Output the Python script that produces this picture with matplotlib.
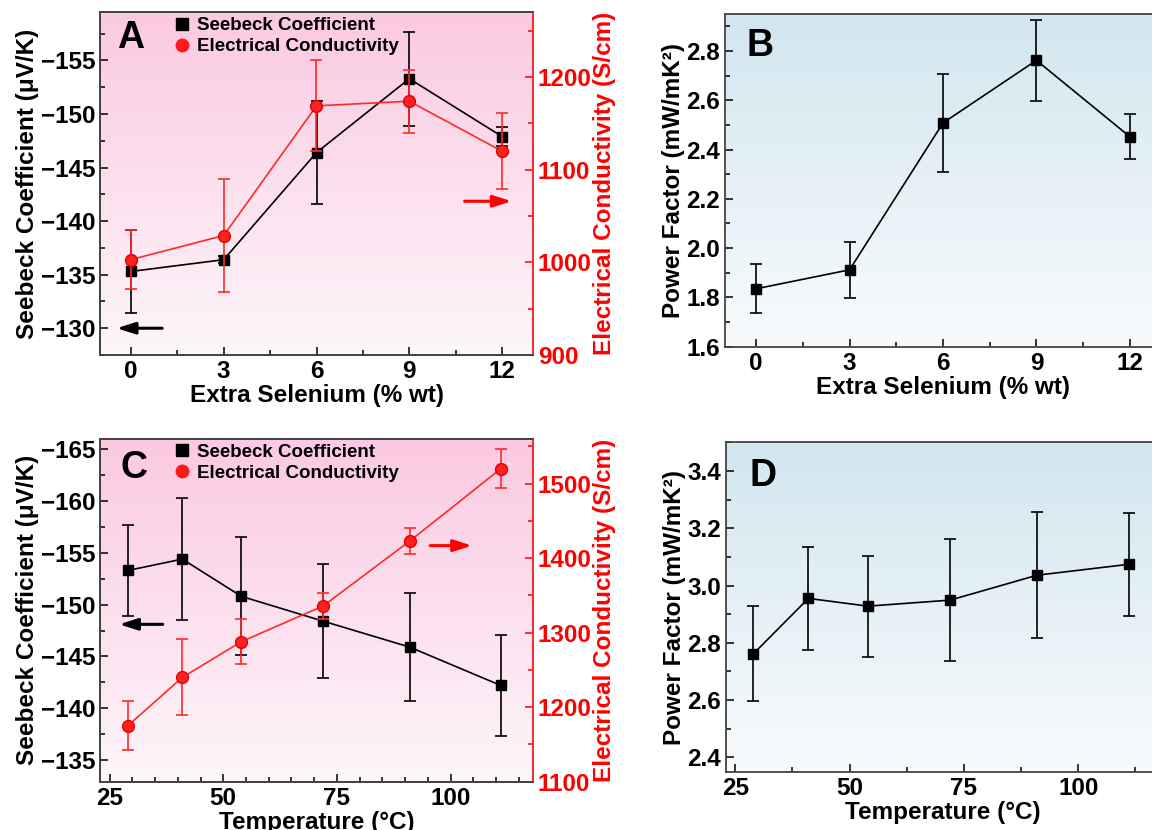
import numpy as np
import matplotlib
matplotlib.use("Agg")
import matplotlib.pyplot as plt
from matplotlib.colors import LinearSegmentedColormap
from matplotlib.lines import Line2D
from matplotlib.ticker import MultipleLocator

plt.rcParams['font.family'] = ['Liberation Sans', 'DejaVu Sans']
plt.rcParams['font.weight'] = 'bold'
plt.rcParams['axes.labelweight'] = 'bold'

# ---- data ----
selenium = [0, 3, 6, 9, 12]
seebeck_se = [-135.3, -136.4, -146.4, -153.3, -147.9]
seebeck_se_err = [3.9, 0.3, 4.8, 4.4, 0.9]
cond_se = [1003, 1029, 1169, 1174, 1120]
cond_se_err = [32, 61, 49, 34, 41]
pf_se = [1.835, 1.912, 2.508, 2.762, 2.452]
pf_se_err = [0.10, 0.114, 0.20, 0.165, 0.092]

temperature = [29, 41, 54, 72, 91, 111]
seebeck_t = [-153.3, -154.4, -150.8, -148.4, -145.9, -142.2]
seebeck_t_err = [4.4, 5.9, 5.7, 5.5, 5.2, 4.9]
cond_t = [1175, 1240, 1288, 1336, 1423, 1520]
cond_t_err = [33, 51, 30, 17, 17, 26]
pf_t = [2.762, 2.955, 2.928, 2.949, 3.036, 3.074]
pf_t_err = [0.165, 0.18, 0.176, 0.212, 0.22, 0.18]

W, H = 1152, 830
fig = plt.figure(figsize=(W / 100, H / 100), dpi=100)


def px_axes(l, t, r, b):
    return fig.add_axes([l / W, 1 - b / H, (r - l) / W, (b - t) / H])


pink = LinearSegmentedColormap.from_list('pink', ['#fdf6fa', '#fbc9e1'])
blue = LinearSegmentedColormap.from_list('blue', ['#f8fbfd', '#d2e6ef'])


def background(ax, cmap):
    grad = np.linspace(0, 1, 256).reshape(-1, 1)
    ax.imshow(grad, cmap=cmap, origin='lower', extent=[0, 1, 0, 1],
              transform=ax.transAxes, aspect='auto', zorder=-10)


def style(ax, color='black'):
    ax.tick_params(which='both', direction='in', labelsize=17.5, width=1.1,
                   colors=color, labelcolor=color)
    ax.tick_params(which='major', length=6)
    ax.tick_params(which='minor', length=3.5)
    for s in ax.spines.values():
        s.set_color('#444444')
        s.set_linewidth(1.3)


def black_series(ax, x, y, e):
    ax.errorbar(x, y, yerr=e, color='black', marker='s', ms=7, lw=1.2,
                elinewidth=1.2, capsize=4, capthick=1.2, zorder=3)


def red_series(ax, x, y, e):
    ax.errorbar(x, y, yerr=e, color='#ff2a2a', marker='o', ms=8.5, lw=1.2,
                mec='#e00000', mfc='#ff2020', elinewidth=1.2, capsize=4,
                capthick=1.2, zorder=3)


def legend(ax):
    h = [Line2D([], [], ls='none', marker='s', color='black', ms=8),
         Line2D([], [], ls='none', marker='o', color='#ff1a1a', ms=9)]
    ax.legend(h, ['Seebeck Coefficient', 'Electrical Conductivity'],
              loc='upper left', bbox_to_anchor=(0.125, 1.035), frameon=False,
              handletextpad=0.2, handlelength=1.2, labelspacing=0.2,
              prop={'size': 13.5, 'weight': 'bold'})


def arrow(ax, x0, x1, y, color):
    ax.annotate('', xy=(x1, y), xytext=(x0, y),
                arrowprops=dict(arrowstyle='-|>,head_length=1.1,head_width=0.35',
                                color=color, lw=2.2), zorder=5)


LAB = 17.5

# ---- A ----
axA = px_axes(100, 12.3, 533, 355)
background(axA, pink)
black_series(axA, selenium, seebeck_se, seebeck_se_err)
axA.set_xlim(-1, 13)
axA.set_ylim(-127.5, -159.5)
axA.set_xticks(selenium)
axA.xaxis.set_minor_locator(MultipleLocator(1.5))
axA.yaxis.set_major_locator(MultipleLocator(5))
axA.yaxis.set_minor_locator(MultipleLocator(2.5))
axA.set_xlabel('Extra Selenium (% wt)', fontsize=LAB, labelpad=1)
axA.set_ylabel('Seebeck Coefficient (μV/K)', fontsize=LAB, labelpad=1)
style(axA)
arrow(axA, 1.1, -0.55, -130, 'black')
axA.text(0.04, 0.977, 'A', transform=axA.transAxes, fontsize=27,
         fontweight='bold', va='top')
axA2 = axA.twinx()
red_series(axA2, selenium, cond_se, cond_se_err)
axA2.set_ylim(900, 1270)
axA2.yaxis.set_major_locator(MultipleLocator(100))
axA2.yaxis.set_minor_locator(MultipleLocator(50))
axA2.set_ylabel('Electrical Conductivity (S/cm)', color='#ff0000',
                fontsize=LAB, labelpad=1)
style(axA2, '#ff0000')
axA2.spines['right'].set_color('#ff3030')
arrow(axA2, 10.7, 12.4, 1066, '#ff0000')
legend(axA2)

# ---- B ----
axB = px_axes(725, 14, 1161, 346.7)
background(axB, blue)
black_series(axB, selenium, pf_se, pf_se_err)
axB.set_xlim(-1, 13)
axB.set_ylim(1.6, 2.95)
axB.set_xticks(selenium)
axB.xaxis.set_minor_locator(MultipleLocator(1.5))
axB.yaxis.set_major_locator(MultipleLocator(0.2))
axB.yaxis.set_minor_locator(MultipleLocator(0.1))
axB.set_xlabel('Extra Selenium (% wt)', fontsize=LAB, labelpad=1)
axB.set_ylabel('Power Factor (mW/mK²)', fontsize=LAB, labelpad=1)
style(axB)
axB.text(0.05, 0.957, 'B', transform=axB.transAxes, fontsize=27,
         fontweight='bold', va='top')

# ---- C ----
axC = px_axes(100, 439, 533, 781.7)
background(axC, pink)
black_series(axC, temperature, seebeck_t, seebeck_t_err)
axC.set_xlim(22.9, 118.1)
axC.set_ylim(-132.9, -166)
axC.xaxis.set_major_locator(MultipleLocator(25))
axC.xaxis.set_minor_locator(MultipleLocator(5))
axC.yaxis.set_major_locator(MultipleLocator(5))
axC.yaxis.set_minor_locator(MultipleLocator(2.5))
axC.set_xlabel('Temperature (°C)', fontsize=LAB, labelpad=1)
axC.set_ylabel('Seebeck Coefficient (μV/K)', fontsize=LAB, labelpad=1)
style(axC)
arrow(axC, 37.3, 26.5, -148.1, 'black')
axC.text(0.048, 0.968, 'C', transform=axC.transAxes, fontsize=27,
         fontweight='bold', va='top')
axC2 = axC.twinx()
red_series(axC2, temperature, cond_t, cond_t_err)
axC2.set_ylim(1100, 1560)
axC2.yaxis.set_major_locator(MultipleLocator(100))
axC2.yaxis.set_minor_locator(MultipleLocator(50))
axC2.set_ylabel('Electrical Conductivity (S/cm)', color='#ff0000',
                fontsize=LAB, labelpad=1)
style(axC2, '#ff0000')
axC2.spines['right'].set_color('#ff3030')
arrow(axC, 94.9, 105.3, -155.7, '#ff0000')
legend(axC2)

# ---- D ----
axD = px_axes(725.6, 442.3, 1161, 771.7)
background(axD, blue)
black_series(axD, temperature, pf_t, pf_t_err)
axD.set_xlim(22.9, 118.1)
axD.set_ylim(2.35, 3.5)
axD.xaxis.set_major_locator(MultipleLocator(25))
axD.xaxis.set_minor_locator(MultipleLocator(12.5))
axD.yaxis.set_major_locator(MultipleLocator(0.2))
axD.yaxis.set_minor_locator(MultipleLocator(0.1))
axD.set_xlabel('Temperature (°C)', fontsize=LAB, labelpad=1)
axD.set_ylabel('Power Factor (mW/mK²)', fontsize=LAB, labelpad=1)
style(axD)
axD.text(0.054, 0.951, 'D', transform=axD.transAxes, fontsize=27,
         fontweight='bold', va='top')

fig.savefig('out.png', dpi=100)
